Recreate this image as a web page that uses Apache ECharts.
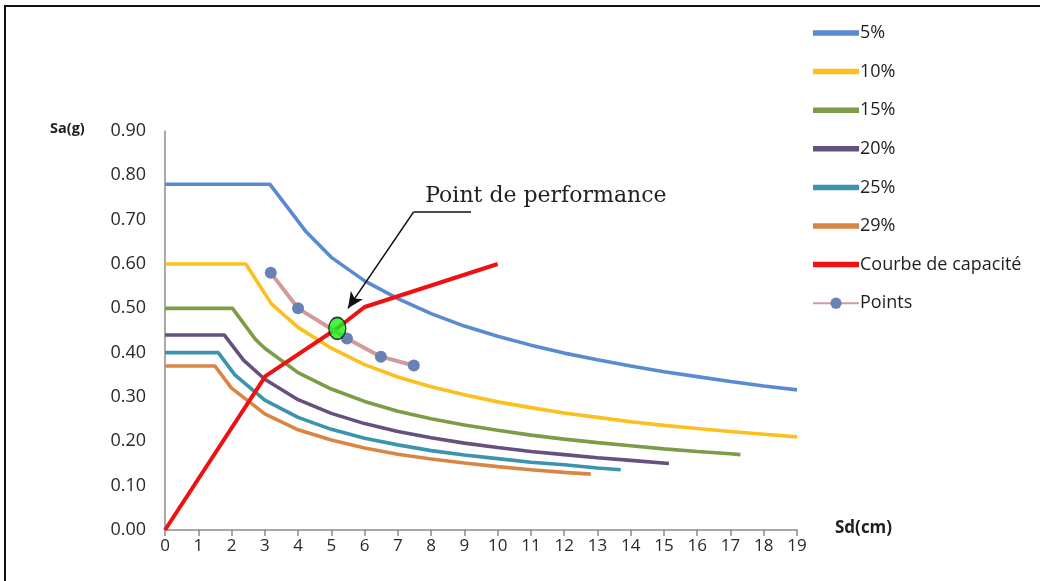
<!DOCTYPE html>
<html>
<head>
<meta charset="utf-8">
<script src="https://cdn.jsdelivr.net/npm/echarts@6/dist/echarts.min.js"></script>
<style>
html,body{margin:0;padding:0;background:#fff;}
#chart{width:1040px;height:581px;}
</style>
</head>
<body>
<div id="chart"></div>
<script>
// ---- data (Sd in cm, Sa in g) ----
const xTicks = [0,1,2,3,4,5,6,7,8,9,10,11,12,13,14,15,16,17,18,19];
const yTicks = [0,0.1,0.2,0.3,0.4,0.5,0.6,0.7,0.8,0.9];

const s5  = [[0,0.78],[3.15,0.78],[4.25,0.672],[5,0.615],[6,0.562],[7,0.522],[8,0.488],[9,0.46],[10,0.437],[11,0.417],[12,0.399],[13,0.384],[14,0.37],[15,0.357],[16,0.346],[17,0.335],[18,0.325],[19,0.316]];
const s10 = [[0,0.60],[2.43,0.60],[3.2,0.51],[4,0.457],[5,0.41],[6,0.373],[7,0.345],[8,0.323],[9,0.305],[10,0.289],[11,0.276],[12,0.264],[13,0.254],[14,0.244],[15,0.236],[16,0.229],[17,0.222],[18,0.216],[19,0.21]];
const s15 = [[0,0.50],[2.03,0.50],[2.72,0.43],[3,0.41],[4,0.355],[5,0.318],[6,0.29],[7,0.268],[8,0.251],[9,0.237],[10,0.225],[11,0.214],[12,0.205],[13,0.197],[14,0.19],[15,0.183],[16,0.177],[17,0.172],[17.3,0.17]];
const s20 = [[0,0.44],[1.78,0.44],[2.36,0.383],[3,0.34],[4,0.294],[5,0.263],[6,0.24],[7,0.222],[8,0.208],[9,0.196],[10,0.186],[11,0.177],[12,0.17],[13,0.163],[14,0.157],[15.15,0.15]];
const s25 = [[0,0.40],[1.6,0.40],[2.1,0.35],[3,0.293],[4,0.254],[5,0.227],[6,0.207],[7,0.192],[8,0.179],[9,0.169],[10,0.161],[11,0.153],[12,0.147],[13,0.14],[13.7,0.136]];
const s29 = [[0,0.37],[1.5,0.37],[2.0,0.32],[3,0.262],[4,0.226],[5,0.203],[6,0.185],[7,0.171],[8,0.16],[9,0.151],[10,0.143],[11,0.136],[12,0.13],[12.8,0.126]];
const capacity = [[0,0],[3.02,0.347],[5.18,0.455],[6.0,0.503],[10,0.60]];
const points = [[3.18,0.58],[4.0,0.50],[5.47,0.432],[6.49,0.391],[7.48,0.371]];
const perfPoint = [[5.18,0.455]];
const annotText = 'Point de performance';
const annotTextPos = [11.45,0.753];
const annotShelf = [[9.2,0.717],[7.47,0.717]];
const annotArrow = [[7.47,0.717],[5.5,0.50]];

const names = ['5%','10%','15%','20%','25%','29%','Courbe de capacité','Points'];
const colors = ['#5A8AD0','#FBC01E','#7C9C48','#65507E','#3C93AE','#D98645','#EE1111','#D29A98'];

const chart = echarts.init(document.getElementById('chart'), null, {renderer:'canvas'});
const fam = '"Open Sans", "Noto Sans", sans-serif';

function lineSeries(name, data, color, z, w){
  return {name, type:'line', data, showSymbol:false, symbol:'none',
    lineStyle:{color, width:w||3.6}, itemStyle:{color}, z: z||2, animation:false};
}
const linePath = 'path://M0,0 L46,0 L46,5.5 L0,5.5 Z';

const option = {
  animation:false,
  grid:{left:165, right:243, top:131, bottom:51, containLabel:false},
  xAxis:{type:'value', min:0, max:19, interval:1,
    axisLine:{show:true, lineStyle:{color:'#8c8c8c', width:1.5}},
    axisTick:{show:true, length:6, lineStyle:{color:'#8c8c8c', width:1.5}},
    splitLine:{show:false},
    axisLabel:{color:'#2a2a2a', fontSize:17, fontFamily:fam, margin:8,
      formatter:v=> xTicks.includes(v) ? String(v) : ''}
  },
  yAxis:{type:'value', min:0, max:0.9, interval:0.1,
    axisLine:{show:true, lineStyle:{color:'#8c8c8c', width:1.5}},
    axisTick:{show:false}, splitLine:{show:false},
    axisLabel:{color:'#2a2a2a', fontSize:18, fontFamily:fam, margin:19,
      formatter:v=> v.toFixed(2)}
  },
  legend:{orient:'vertical', left:812, top:24, padding:0, itemWidth:46, itemHeight:14, itemGap:20.6,
    textStyle:{fontSize:18, fontFamily:fam, color:'#1e1e1e', padding:[0,0,0,-4]},
    data:[
      {name:names[0], icon:linePath},{name:names[1], icon:linePath},{name:names[2], icon:linePath},
      {name:names[3], icon:linePath},{name:names[4], icon:linePath},{name:names[5], icon:linePath},
      {name:names[6], icon:linePath},{name:names[7]}
    ]},
  series:[
    lineSeries(names[0], s5, colors[0]),
    lineSeries(names[1], s10, colors[1]),
    lineSeries(names[2], s15, colors[2]),
    lineSeries(names[3], s20, colors[3]),
    lineSeries(names[4], s25, colors[4]),
    lineSeries(names[5], s29, colors[5]),
    lineSeries(names[6], capacity, colors[6], 4, 4),
    {name:names[7], type:'line', data:points, symbol:'circle', symbolSize:12, showSymbol:true,
      lineStyle:{color:colors[7], width:4}, itemStyle:{color:'#6982B6'}, z:5, animation:false},
    {name:'perf', type:'scatter', data:perfPoint, symbol:'circle', symbolSize:[17,22],
      itemStyle:{color:'#19F019', borderColor:'#111', borderWidth:1.5}, z:8, animation:false},
    {name:'annot', type:'line', data:[], z:9, animation:false,
      markLine:{silent:true, animation:false, symbol:['none','none'], label:{show:false},
        lineStyle:{color:'#111', width:1.6, type:'solid'},
        data:[
          [{coord:annotShelf[0], symbol:'none'},{coord:annotShelf[1], symbol:'none'}],
          [{coord:annotArrow[0], symbol:'none'},{coord:annotArrow[1], symbol:'arrow', symbolSize:[11,16]}]
        ]},
      markPoint:{silent:true, animation:false, symbol:'circle', symbolSize:0,
        data:[{coord:annotTextPos, value:annotText}],
        label:{show:true, formatter:annotText, color:'#222', fontSize:22,
          fontFamily:'"DejaVu Serif", serif', position:'inside'}}
    }
  ],
  graphic:[
    {type:'rect', shape:{x:5, y:6, width:1040, height:580}, style:{fill:'none', stroke:'#111', lineWidth:2}, silent:true},
    {type:'text', left:50, top:121, style:{text:'Sa(g)', font:'bold 14.5px "Open Sans", sans-serif', fill:'#1e1e1e'}},
    {type:'text', left:835, top:520, style:{text:'Sd(cm)', font:'bold 17px "Open Sans", sans-serif', fill:'#1e1e1e'}}
  ]
};
chart.setOption(option);
</script>
</body>
</html>
